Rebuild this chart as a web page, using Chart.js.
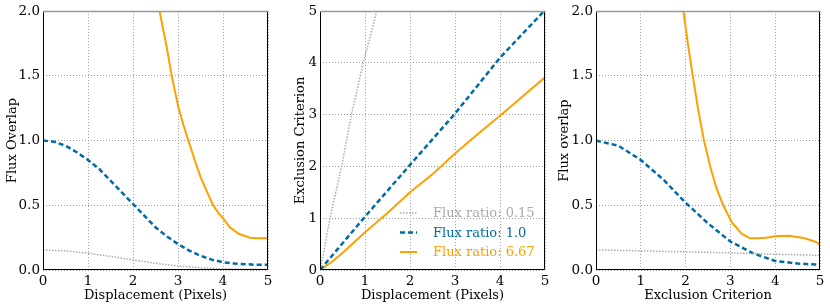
<!DOCTYPE html>
<html>
<head>
<meta charset="utf-8">
<script src="https://cdn.jsdelivr.net/npm/chart.js@4.4.1/dist/chart.umd.min.js"></script>
<style>
  html, body { margin: 0; padding: 0; background: #fff; }
  .panel { position: absolute; top: 0; height: 306px; }
</style>
</head>
<body>
<div class="panel" style="left:0px;width:280px"><canvas id="c1"></canvas></div>
<div class="panel" style="left:280px;width:280px"><canvas id="c2"></canvas></div>
<div class="panel" style="left:555px;width:275px"><canvas id="c3"></canvas></div>
<script>
const legendLabels = ['Flux ratio: 0.15', 'Flux ratio: 1.0', 'Flux ratio: 6.67'];
const xTicks = [0, 1, 2, 3, 4, 5];

// panel 1: flux overlap vs displacement
const p1GrayX = [0, 0.5, 1, 1.5, 2, 2.5, 3, 3.5, 4, 4.5, 5];
const p1GrayY = [0.155, 0.148, 0.13, 0.105, 0.078, 0.052, 0.031, 0.017, 0.009, 0.006, 0.005];
const p1BlueX = [0, 0.25, 0.5, 0.75, 1, 1.25, 1.5, 1.75, 2, 2.25, 2.5, 2.75, 3, 3.25, 3.5, 3.75, 4, 4.25, 4.5, 4.75, 5];
const p1BlueY = [1.0, 0.99, 0.96, 0.91, 0.85, 0.78, 0.69, 0.60, 0.51, 0.42, 0.33, 0.26, 0.2, 0.15, 0.11, 0.08, 0.06, 0.05, 0.045, 0.04, 0.04];
const p1OrangeX = [2.45, 2.59, 2.75, 2.86, 3.0, 3.12, 3.24, 3.38, 3.5, 3.65, 3.78, 3.9, 4.0, 4.15, 4.35, 4.6, 4.8, 5.0];
const p1OrangeY = [2.3, 2.0, 1.72, 1.5, 1.27, 1.12, 0.99, 0.84, 0.72, 0.6, 0.5, 0.44, 0.4, 0.33, 0.28, 0.25, 0.245, 0.245];

// panel 2: exclusion criterion vs displacement
const p2GrayX = [0, 0.05, 0.1, 0.22, 0.35, 0.48, 0.6, 0.7, 0.83, 0.96, 1.1, 1.26, 1.5, 5];
const p2GrayY = [0, 0.2, 0.42, 1.0, 1.5, 2.0, 2.55, 3.0, 3.5, 4.0, 4.45, 5.0, 5.0, 5.0];
const p2BlueX = [0, 1, 2, 3, 4, 5];
const p2BlueY = [0, 1.03, 2.03, 3.02, 4.1, 5.02];
const p2OrangeX = [0, 0.25, 0.5, 1, 1.5, 2, 2.5, 3, 3.5, 4, 4.5, 5];
const p2OrangeY = [0, 0.15, 0.33, 0.73, 1.1, 1.5, 1.85, 2.25, 2.62, 2.98, 3.35, 3.72];

// panel 3: flux overlap vs exclusion criterion
const p3GrayX = [0, 1, 2, 3, 4, 5];
const p3GrayY = [0.155, 0.148, 0.14, 0.132, 0.122, 0.113];
const p3BlueX = [0, 0.5, 1, 1.5, 2, 2.5, 3, 3.5, 4, 4.5, 5];
const p3BlueY = [1.0, 0.96, 0.85, 0.7, 0.52, 0.36, 0.22, 0.13, 0.07, 0.05, 0.04];
const p3OrangeX = [1.85, 1.95, 2.05, 2.16, 2.28, 2.41, 2.55, 2.69, 2.84, 3.03, 3.25, 3.44, 3.6, 3.8, 4.0, 4.3, 4.6, 4.8, 4.95, 5.0, 5.0];
const p3OrangeY = [2.4, 2.0, 1.75, 1.5, 1.24, 1.0, 0.8, 0.63, 0.5, 0.37, 0.28, 0.245, 0.245, 0.25, 0.26, 0.265, 0.25, 0.23, 0.21, 0.19, 0.0];

const GRAY = '#aaaaaa', BLUE = '#006ba4', ORANGE = '#ffa000';
const FONT = "'DejaVu Serif', serif";

function pts(xs, ys) {
  return xs.map((x, i) => ({ x: x, y: ys[i] }));
}

function makeSets(gx, gy, bx, by, ox, oy) {
  return [
    { label: legendLabels[0], data: pts(gx, gy), borderColor: GRAY, borderWidth: 1.5, borderDash: [1.5, 1.5] },
    { label: legendLabels[1], data: pts(bx, by), borderColor: BLUE, borderWidth: 2.5, borderDash: [5, 3] },
    { label: legendLabels[2], data: pts(ox, oy), borderColor: ORANGE, borderWidth: 2 }
  ];
}

const frame = {
  id: 'frame',
  afterDatasetsDraw(chart) {
    const a = chart.chartArea, ctx = chart.ctx;
    ctx.save();
    ctx.lineWidth = 1;
    ctx.strokeStyle = '#000';
    ctx.beginPath();
    ctx.moveTo(a.left + 0.5, a.top);
    ctx.lineTo(a.left + 0.5, a.bottom - 0.5);
    ctx.lineTo(a.right - 0.5, a.bottom - 0.5);
    ctx.lineTo(a.right - 0.5, a.top);
    ctx.stroke();
    ctx.strokeStyle = '#999';
    ctx.lineWidth = 1.5;
    ctx.beginPath();
    ctx.moveTo(a.left, a.top + 0.5);
    ctx.lineTo(a.right, a.top + 0.5);
    ctx.stroke();
    ctx.restore();
  }
};

const innerLegend = {
  id: 'innerLegend',
  afterDraw(chart, args, opts) {
    if (!opts.show) return;
    const a = chart.chartArea, ctx = chart.ctx;
    ctx.save();
    ctx.font = '13px ' + FONT;
    ctx.textBaseline = 'middle';
    chart.data.datasets.forEach((ds, i) => {
      const y = a.bottom - 57 + i * 19.5;
      const x0 = a.left + 80;
      ctx.strokeStyle = ds.borderColor;
      ctx.lineWidth = ds.borderWidth;
      ctx.setLineDash(ds.borderDash || []);
      ctx.beginPath();
      ctx.moveTo(x0, y);
      ctx.lineTo(x0 + 17, y);
      ctx.stroke();
      ctx.setLineDash([]);
      ctx.fillStyle = ds.borderColor;
      ctx.fillText(ds.label, x0 + 33, y + 1);
    });
    ctx.restore();
  }
};

function makeChart(id, sets, yMax, yStep, yDigits, xTitle, yTitle, yWidth, titlePad, padRight, showLegend) {
  return new Chart(document.getElementById(id), {
    type: 'line',
    data: { datasets: sets },
    options: {
      responsive: true,
      maintainAspectRatio: false,
      animation: false,
      layout: { padding: { top: 11, right: padRight, left: 0, bottom: 0 } },
      elements: { point: { radius: 0 }, line: { tension: 0, fill: false } },
      plugins: { legend: { display: false }, tooltip: { enabled: false }, innerLegend: { show: showLegend } },
      scales: {
        x: {
          type: 'linear', min: 0, max: 5,
          afterBuildTicks: s => { s.ticks = xTicks.map(v => ({ value: v })); },
          grid: { color: '#999', drawTicks: false },
          border: { display: false, dash: [1, 2] },
          ticks: { color: '#000', font: { family: FONT, size: 13.5 }, padding: 3, maxRotation: 0 },
          title: { display: true, text: xTitle, color: '#000', font: { family: FONT, size: 13 }, padding: { top: 0, bottom: 3 } },
          afterFit: s => { s.height = 36; }
        },
        y: {
          type: 'linear', min: 0, max: yMax,
          ticks: { stepSize: yStep, color: '#000', font: { family: FONT, size: 13.5 }, padding: 3,
                   callback: v => v.toFixed(yDigits) },
          grid: { color: '#999', drawTicks: false },
          border: { display: false, dash: [1, 2] },
          title: { display: true, text: yTitle, color: '#000', font: { family: FONT, size: 13 }, padding: { top: titlePad, bottom: 0 } },
          afterFit: s => { s.width = yWidth; }
        }
      }
    },
    plugins: [frame, innerLegend]
  });
}

makeChart('c1', makeSets(p1GrayX, p1GrayY, p1BlueX, p1BlueY, p1OrangeX, p1OrangeY),
  2, 0.5, 1, 'Displacement (Pixels)', 'Flux Overlap', 43, 5, 12, false);
makeChart('c2', makeSets(p2GrayX, p2GrayY, p2BlueX, p2BlueY, p2OrangeX, p2OrangeY),
  5, 1, 0, 'Displacement (Pixels)', 'Exclusion Criterion', 40, 13, 15, true);
makeChart('c3', makeSets(p3GrayX, p3GrayY, p3BlueX, p3BlueY, p3OrangeX, p3OrangeY),
  2, 0.5, 1, 'Exclusion Criterion', 'Flux overlap', 41, 1.5, 10, false);
</script>
</body>
</html>
